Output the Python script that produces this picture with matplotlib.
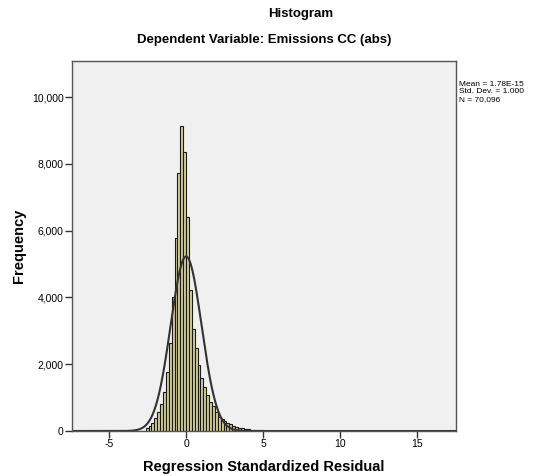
import matplotlib
import numpy as np

matplotlib.use("Agg")
import matplotlib.pyplot as plt
from matplotlib.ticker import FuncFormatter

plt.rcParams["font.family"] = ["Liberation Sans", "DejaVu Sans"]
plt.rcParams["axes.unicode_minus"] = False

# residual histogram: bin width and left edge of the first non-empty bin
BIN_WIDTH = 0.187
FIRST_EDGE = -2.62
COUNTS = [
    80, 150, 230, 380, 580, 810, 1180, 1780, 2630, 4020, 5770, 7720,
    9140,
    8360, 6400, 4220, 3070, 2480, 1980, 1580, 1330, 1080, 880, 750, 580,
    430, 360, 310, 250, 210, 160, 130, 100, 80, 60, 50, 40,
    32, 25, 20, 16, 12, 10, 8, 6, 5, 4, 3,
]
N_OBS = 70096
MEAN = 0.0
STD = 1.0
STATS_LINES = ["Mean = 1.78E-15", "Std. Dev. = 1.000", "N = 70,096"]

X_TICKS = [-5, 0, 5, 10, 15]
Y_TICKS = [0, 2000, 4000, 6000, 8000, 10000]

edges = FIRST_EDGE + BIN_WIDTH * np.arange(len(COUNTS))

fig = plt.figure(figsize=(5.47, 4.76), dpi=100)
ax = fig.add_axes([0.1316, 0.0945, 0.702, 0.777])
ax.set_facecolor("#F0F0F0")

ax.bar(edges, COUNTS, width=BIN_WIDTH, align="edge",
       color="#D3CE97", edgecolor="#1a1a1a", linewidth=0.8)

# normal curve scaled to counts per bin
xs = np.linspace(-7.4, 17.5, 800)
pdf = np.exp(-0.5 * ((xs - MEAN) / STD) ** 2) / (STD * np.sqrt(2 * np.pi))
ax.plot(xs, N_OBS * BIN_WIDTH * pdf, color="#333333", linewidth=1.5)

ax.set_xlim(-7.4, 17.5)
ax.set_ylim(0, 11080)
ax.set_xticks(X_TICKS)
ax.set_yticks(Y_TICKS)
ax.yaxis.set_major_formatter(FuncFormatter(lambda v, _: f"{int(v):,}"))
ax.tick_params(direction="out", length=5, width=1, color="#333333",
               labelsize=7.5, pad=1)

for side in ("left", "bottom", "top", "right"):
    ax.spines[side].set_color("#555555")
    ax.spines[side].set_linewidth(1)

ax.set_xlabel("Regression Standardized Residual", fontsize=10.5,
              fontweight="bold", labelpad=8)
ax.set_ylabel("Frequency", fontsize=10.5, fontweight="bold", labelpad=4)

fig.text(0.55, 0.97, "Histogram", ha="center", va="center",
         fontsize=9.5, fontweight="bold")
fig.text(0.4826, 0.915, "Dependent Variable: Emissions CC (abs)",
         ha="center", va="center", fontsize=9.5, fontweight="bold")

fig.text(0.839, 0.83, "\n".join(STATS_LINES), ha="left", va="top",
         fontsize=6.0, linespacing=1.1)

fig.savefig("out.png", dpi=100)
